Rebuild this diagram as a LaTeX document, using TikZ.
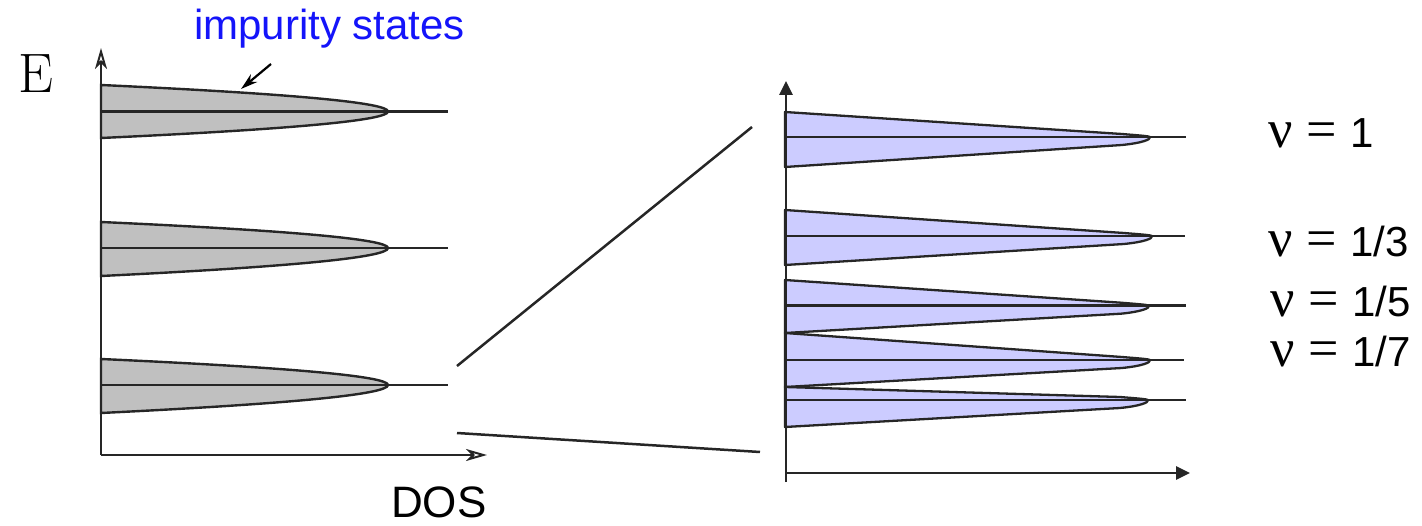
\documentclass[tikz,border=0pt]{standalone}
\usepackage{fontspec}
\newfontfamily\sansfont{Liberation Sans}
\newfontfamily\greekfont{Liberation Serif}
\usetikzlibrary{arrows.meta}

\definecolor{lobegray}{RGB}{192,192,192}
\definecolor{lobeblue}{RGB}{204,204,255}
\definecolor{labelblue}{RGB}{20,20,250}

\tikzset{
  axisline/.style={line width=2.6pt, draw=black!85},
  openhead/.style={-{Stealth[open,length=21pt,width=12pt,inset=6pt,fill=white,line width=2pt]}},
  solidhead/.style={-{Triangle[length=14pt,width=13pt]}},
  levelline/.style={line width=2.4pt, draw=black!85},
  graylobestyle/.style={fill=lobegray, draw=black!85, line width=2.4pt},
  bluelobestyle/.style={fill=lobeblue, draw=black!85, line width=2.3pt, line join=round},
  zoomline/.style={line width=2.5pt, draw=black!85},
  pointer/.style={line width=2.2pt, -{Stealth[length=17pt,width=10pt]}},
  nulabel/.style={anchor=base west, inner sep=0pt, font=\sansfont\fontsize{42}{44}\selectfont},
}

% broadened Landau level (left panel): parabolic profile, tip at x=388
\newcommand\graylobe[3]{%
  \pgfmathsetmacro\ha{#2-#1}\pgfmathsetmacro\hb{#3-#2}%
  \filldraw[graylobestyle] (101,#1)
    .. controls (292.3,{#1+\ha/3}) and (388,{#2-\ha/3}) .. (388,#2)
    .. controls (388,{#2+\hb/3}) and (292.3,{#3-\hb/3}) .. (101,#3) -- cycle;
}
% fractional level (right panel): narrow wedge with rounded nose
\newcommand\bluelobe[4]{%
  \filldraw[bluelobestyle] (785,#1) -- ({#4-28},{#2-3})
    .. controls ({#4-10},{#2-1.5}) and ({#4-2},{#2-1}) .. (#4,#2)
    .. controls ({#4+1},{#2+2.5}) and ({#4-8},{#2+6}) .. ({#4-28},{#2+8})
    -- (785,#3) -- cycle;
}
\newcommand\fillingtext[1]{{\greekfont\fontsize{54}{44}\selectfont\rlap{ν}\hspace{38pt}\rlap{=}}\hspace{44pt}#1}

\begin{document}
\begin{tikzpicture}[x=1pt,y=-1pt]
\useasboundingbox (0,0) rectangle (1422,526);

% ---- left panel: Landau levels broadened by impurities ----
\graylobe{85}{111.5}{138}
\graylobe{222}{248}{276}
\graylobe{359}{385}{413}
\coordinate (l1a) at (101,111.5); \coordinate (l1b) at (448,111.5);
\coordinate (l2a) at (101,248);   \coordinate (l2b) at (448,248);
\coordinate (l3a) at (101,385);   \coordinate (l3b) at (448,385);
\draw[levelline] (l1a) -- (l1b);
\draw[levelline] (l2a) -- (l2b);
\draw[levelline] (l3a) -- (l3b);

\coordinate (lo) at (101,455);
\coordinate (ly) at (101,48);
\coordinate (lx) at (487,455);
\draw[axisline,openhead] (lo) -- (ly);
\draw[axisline,openhead] (lo) -- (lx);

\node[anchor=base west, inner sep=0pt, font=\fontsize{55.6}{60}\selectfont] (E) at (18,93) {E};
\node[anchor=base west, inner sep=0pt, font=\sansfont\fontsize{44}{46}\selectfont] (dos) at (391,517) {DOS};
\node[anchor=base west, inner sep=0pt, text=labelblue, font=\sansfont\fontsize{42}{48}\selectfont] (imp) at (194,40) {impurity states};
\coordinate (ptr) at (271,64);
\coordinate (ptrend) at (241,89);
\draw[pointer] (ptr) -- (ptrend);

% ---- zoom lines ----
\coordinate (zA1) at (457,366); \coordinate (zA2) at (752,127);
\coordinate (zB1) at (457,433); \coordinate (zB2) at (760,452);
\draw[zoomline] (zA1) -- (zA2);
\draw[zoomline] (zB1) -- (zB2);

% ---- right panel: fractional levels ----
\bluelobe{112}{137}{167}{1150}
\bluelobe{210}{236}{265}{1152}
\bluelobe{280}{305.7}{333}{1149}
\bluelobe{333}{360}{387}{1150}
\bluelobe{387}{400}{427}{1148}
\coordinate (r1a) at (787,137);   \coordinate (r1b) at (1186,137);
\coordinate (r2a) at (787,236);   \coordinate (r2b) at (1185,236);
\coordinate (r3a) at (787,305.7); \coordinate (r3b) at (1186,305.7);
\coordinate (r4a) at (787,360);   \coordinate (r4b) at (1184,360);
\coordinate (r5a) at (787,400);   \coordinate (r5b) at (1186,400);
\draw[levelline] (r1a) -- (r1b);
\draw[levelline] (r2a) -- (r2b);
\draw[levelline] (r3a) -- (r3b);
\draw[levelline] (r4a) -- (r4b);
\draw[levelline] (r5a) -- (r5b);

\coordinate (ro) at (786,473);
\coordinate (rb) at (786,482);
\coordinate (ry) at (786,81);
\coordinate (rx) at (1190,473);
\draw[axisline,solidhead] (rb) -- (ry);
\draw[axisline,solidhead] (ro) -- (rx);

\node[nulabel] (nu1) at (1268,148) {\fillingtext{1}};
\node[nulabel] (nu3) at (1268,257) {\fillingtext{1/3}};
\node[nulabel] (nu5) at (1270,317) {\fillingtext{1/5}};
\node[nulabel] (nu7) at (1270,367) {\fillingtext{1/7}};
\end{tikzpicture}
\end{document}
